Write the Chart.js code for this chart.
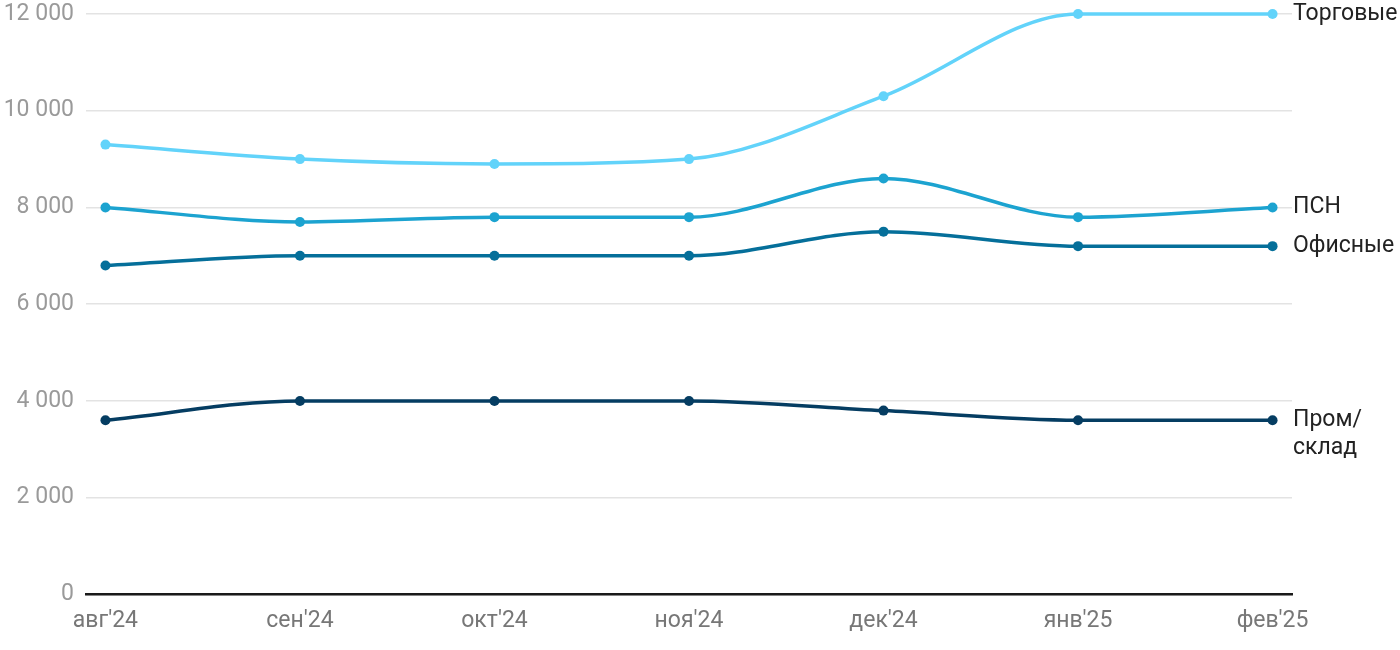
<!DOCTYPE html>
<html>
<head>
<meta charset="utf-8">
<script src="https://cdn.jsdelivr.net/npm/chart.js@4"></script>
<style>
html,body{margin:0;padding:0;background:#fff;}
#wrap{width:1400px;height:650px;}
</style>
</head>
<body>
<div id="wrap"><canvas id="c" width="1400" height="650"></canvas></div>
<script>
const categories = ["авг'24","сен'24","окт'24","ноя'24","дек'24","янв'25","фев'25"];
const seriesNames = ["Торговые","ПСН","Офисные","Пром/\nсклад"];
const torgovye = [9300, 9000, 8900, 9000, 10300, 12000, 12000];
const psn = [8000, 7700, 7800, 7800, 8600, 7800, 8000];
const ofisnye = [6800, 7000, 7000, 7000, 7500, 7200, 7200];
const promSklad = [3600, 4000, 4000, 4000, 3800, 3600, 3600];
const yTicks = [0, 2000, 4000, 6000, 8000, 10000, 12000];
const colors = ["#62d3fa", "#1ca3d0", "#056f9a", "#053d62"];

const allSeries = [torgovye, psn, ofisnye, promSklad];
const datasets = allSeries.map((arr, i) => ({
  label: seriesNames[i],
  data: arr.map((v, j) => ({x: j, y: v})),
  borderColor: colors[i],
  backgroundColor: colors[i],
  borderWidth: 3.5,
  pointRadius: 5,
  pointHoverRadius: 5,
  pointBorderWidth: 0,
  cubicInterpolationMode: 'monotone',
  clip: false,
  fill: false
}));

const endLabels = {
  id: 'endLabels',
  afterDatasetsDraw(chart) {
    const ctx = chart.ctx;
    const ys = chart.scales.y;
    const x = chart.chartArea.right + 1;
    ctx.save();
    ctx.font = '23px Roboto';
    ctx.fillStyle = '#222';
    ctx.textAlign = 'left';
    ctx.textBaseline = 'middle';
    chart.data.datasets.forEach((ds, i) => {
      const last = ds.data[ds.data.length - 1].y;
      const y = ys.getPixelForValue(last);
      const lines = ds.label.split('\n');
      lines.forEach((ln, k) => ctx.fillText(ln, x, y + k * 28));
    });
    ctx.restore();
  }
};

new Chart(document.getElementById('c'), {
  type: 'line',
  data: { datasets },
  options: {
    responsive: false,
    animation: false,
    layout: { padding: { top: 0, right: 108, bottom: 2, left: 0 } },
    plugins: { legend: { display: false }, tooltip: { enabled: false } },
    scales: {
      x: {
        type: 'linear',
        min: -0.1,
        max: 6.1,
        afterBuildTicks(scale) { scale.ticks = categories.map((c, i) => ({value: i})); },
        ticks: {
          callback: (v) => categories[v],
          color: '#777',
          font: { family: 'Roboto', size: 23 },
          padding: 13,
          maxRotation: 0,
          autoSkip: false
        },
        grid: { display: false, drawTicks: false },
        border: { display: true, color: '#1a1a1a', width: 2.5 }
      },
      y: {
        min: 0,
        max: 12000,
        afterBuildTicks(scale) { scale.ticks = yTicks.map(v => ({value: v})); },
        afterFit(scale) { scale.width = 86; scale.paddingTop = 14; },
        ticks: {
          callback: (v) => v === 0 ? '0' : String(v).replace(/\B(?=(\d{3})+(?!\d))/g, ' '),
          color: '#9a9a9a',
          font: { family: 'Roboto', size: 23 },
          padding: 12
        },
        grid: { color: '#e3e3e3', lineWidth: 1.5, drawTicks: false },
        border: { display: false }
      }
    }
  },
  plugins: [endLabels]
});
</script>
</body>
</html>
